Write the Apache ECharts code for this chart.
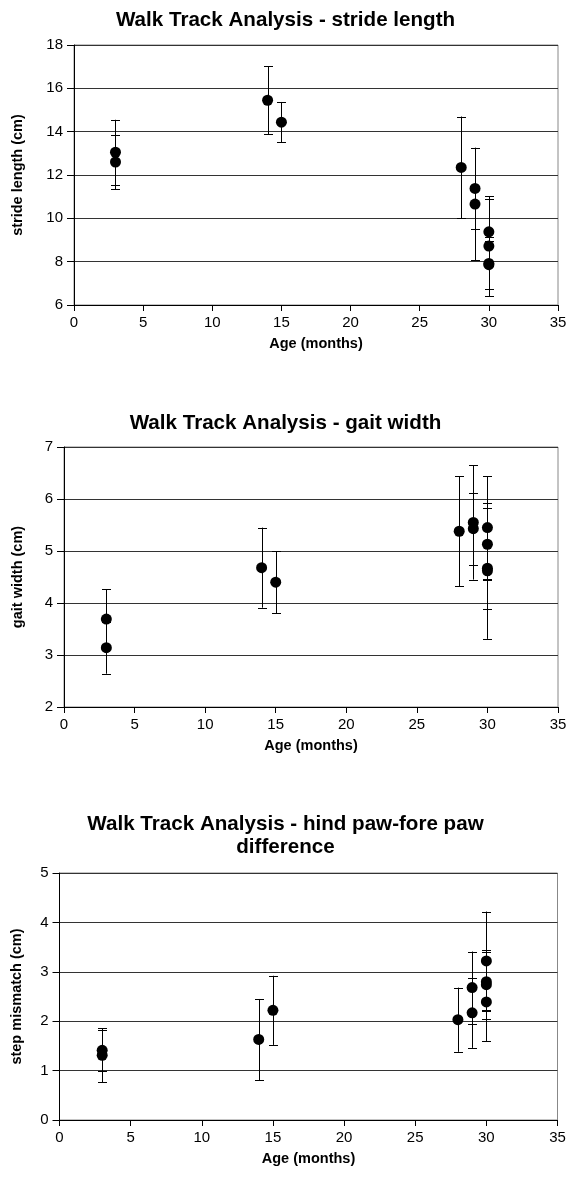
<!DOCTYPE html>
<html><head><meta charset="utf-8">
<script src="https://cdn.jsdelivr.net/npm/echarts@6/dist/echarts.min.js"></script>
<style>html,body{margin:0;padding:0;background:#fff}#c{width:571px;height:1186px}</style>
</head><body><div id="c"></div>
<script>
const ages = [3,3,14,15,28,29,29,30,30,30,30];
const stride = [13.05,12.6,15.45,14.44,12.35,11.38,10.66,9.38,8.72,7.92,7.86];
const strideSD = [1.5,1.25,1.58,0.93,2.35,1.87,2.6,1.5,2.31,1.2,1.1];
const gait = [3.69,3.14,4.68,4.40,5.38,5.55,5.43,5.45,5.13,4.67,4.62];
const gaitSD = [0.57,0.5,0.77,0.6,1.06,1.1,0.69,0.99,0.69,0.78,1.31];
const mismatch = [1.41,1.31,1.63,2.22,2.03,2.68,2.17,3.22,2.80,2.74,2.39];
const mismatchSD = [0.41,0.55,0.82,0.7,0.65,0.73,0.71,1.0,0.6,0.7,0.79];
const titles = ['Walk Track Analysis - stride length','Walk Track Analysis - gait width','Walk Track Analysis - hind paw-fore paw\ndifference'];
const yNames = ['stride length (cm)','gait width (cm)','step mismatch (cm)'];
const xName = 'Age (months)';
const yRanges = [[6,18,2],[2,7,1],[0,5,1]];

const FONT = 'Liberation Sans, Arial, sans-serif';
const grids = [
  {left:74, top:45, width:484, height:260},
  {left:64, top:447, width:494, height:260},
  {left:59.5, top:873, width:498, height:247}
];
const titleTops = [4, 407, 808];
const yNameGaps = [49, 39, 35];
const sets = [[stride,strideSD],[gait,gaitSD],[mismatch,mismatchSD]];

function errRender(params, api){
  const x = api.value(0), lo = api.value(1), hi = api.value(2);
  const a = api.coord([x,hi]), b = api.coord([x,lo]);
  const w = 4;
  const st = {stroke:'#000', lineWidth:1};
  const cx = Math.round(a[0]);
  return {type:'group', children:[
    {type:'line', shape:{x1:cx+0.5,y1:a[1],x2:cx+0.5,y2:b[1]}, style:st},
    {type:'line', shape:{x1:cx-w,y1:Math.round(a[1])+0.5,x2:cx+w+1,y2:Math.round(a[1])+0.5}, style:st},
    {type:'line', shape:{x1:cx-w,y1:Math.round(b[1])+0.5,x2:cx+w+1,y2:Math.round(b[1])+0.5}, style:st}
  ]};
}

const option = {
  animation:false,
  backgroundColor:'#fff',
  textStyle:{fontFamily:FONT},
  title: titles.map((t,i)=>({text:t, left:'center', top:titleTops[i],
    textStyle:{fontFamily:FONT, fontWeight:'bold', fontSize:20.6, color:'#000', lineHeight:23}})),
  grid: grids.map(g=>Object.assign({show:true, borderColor:'#888', borderWidth:1, containLabel:false}, g)),
  xAxis: grids.map((g,i)=>({
    type:'value', gridIndex:i, min:0, max:35, interval:5,
    name:xName, nameLocation:'middle', nameGap:31,
    nameTextStyle:{fontFamily:FONT, fontWeight:'bold', fontSize:14.5, color:'#000'},
    axisLine:{show:true, onZero:false, lineStyle:{color:'#000', width:1}},
    axisTick:{show:true, inside:false, length:6, lineStyle:{color:'#000'}},
    axisLabel:{fontFamily:FONT, fontSize:15, color:'#000', margin:10},
    splitLine:{show:false}
  })),
  yAxis: grids.map((g,i)=>({
    type:'value', gridIndex:i, min:yRanges[i][0], max:yRanges[i][1], interval:yRanges[i][2],
    name:yNames[i], nameLocation:'middle', nameGap:yNameGaps[i], nameRotate:90,
    nameTextStyle:{fontFamily:FONT, fontWeight:'bold', fontSize:14.5, color:'#000'},
    axisLine:{show:true, onZero:false, lineStyle:{color:'#000', width:1}},
    axisTick:{show:true, inside:false, length:7, lineStyle:{color:'#000'}},
    axisLabel:{fontFamily:FONT, fontSize:15, color:'#000', margin:11},
    splitLine:{show:true, lineStyle:{color:'#333', width:1}}
  })),
  series: []
};
sets.forEach((s,i)=>{
  const [vals, sds] = s;
  option.series.push({
    type:'custom', xAxisIndex:i, yAxisIndex:i, renderItem:errRender, z:2,
    data: ages.map((a,k)=>[a, vals[k]-sds[k], vals[k]+sds[k]])
  });
  option.series.push({
    type:'scatter', xAxisIndex:i, yAxisIndex:i, symbol:'circle', symbolSize:11, z:3,
    itemStyle:{color:'#000', opacity:1},
    data: ages.map((a,k)=>[a, vals[k]])
  });
});
const chart = echarts.init(document.getElementById('c'), null, {renderer:'canvas'});
chart.setOption(option);
</script></body></html>
